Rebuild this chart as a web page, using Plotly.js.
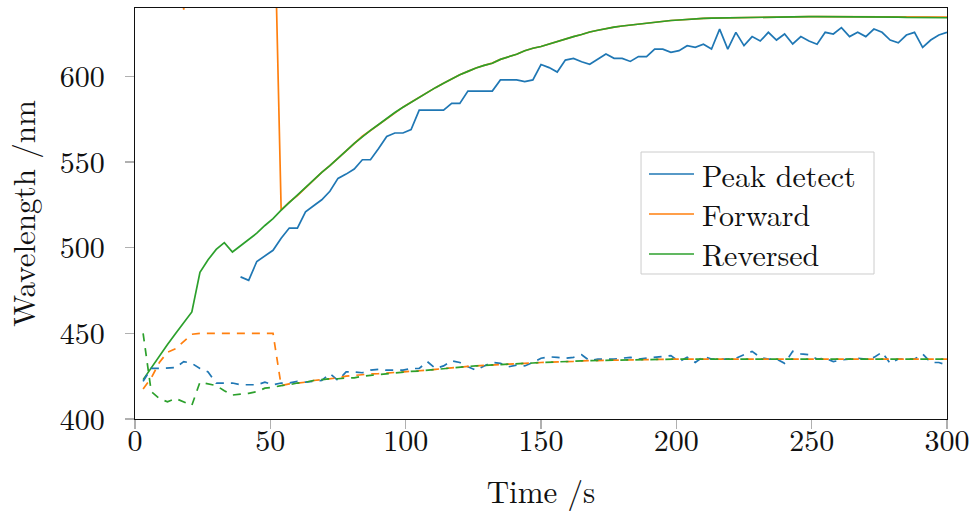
<!DOCTYPE html>
<html>
<head>
<meta charset="utf-8">
<script src="https://cdn.plot.ly/plotly-3.0.1.min.js"></script>
<style>
  html, body { margin: 0; padding: 0; background: #ffffff; }
  #chart { width: 976px; height: 518px; }
</style>
</head>
<body>
<div id="chart"></div>
<script>
// Sample times (s)
const time = [
  3, 6, 9, 12, 15, 18, 21, 24, 27, 30,
  33, 36, 39, 42, 45, 48, 51, 54, 57, 60,
  63, 66, 69, 72, 75, 78, 81, 84, 87, 90,
  93, 96, 99, 102, 105, 108, 111, 114, 117, 120,
  123, 126, 129, 132, 135, 138, 141, 144, 147, 150,
  153, 156, 159, 162, 165, 168, 171, 174, 177, 180,
  183, 186, 189, 192, 195, 198, 201, 204, 207, 210,
  213, 216, 219, 222, 225, 228, 231, 234, 237, 240,
  243, 246, 249, 252, 255, 258, 261, 264, 267, 270,
  273, 276, 279, 282, 285, 288, 291, 294, 297, 300
];

// Upper branch (solid lines)
const peakUpper = [
  null, null, null, null, null, null, null, null, null, null,
  null, null, 483, 481, 492, 495.5, 498.5, 505.5, 511.5, 511.5,
  521, 524.5, 528, 533, 540.5, 543, 546, 551.4, 551.4, 558,
  565, 567, 567, 569, 580.4, 580.4, 580.4, 580.4, 584.3, 584.3,
  591.5, 591.5, 591.5, 591.5, 598, 598, 598, 597, 598, 607,
  605.2, 602.6, 609.6, 610.6, 608.6, 607.1, 610, 613.1, 610.6, 610.6,
  608.8, 611.6, 611.6, 616, 616, 614.1, 615.1, 618, 617, 618.8,
  616, 627.7, 616, 625.8, 618, 623.3, 620.7, 625.8, 621.3, 624.8,
  619, 623.3, 620.7, 618.8, 625.8, 624.8, 628.5, 623.3, 625.8, 623.3,
  627.7, 625.8, 621.3, 619.7, 624.2, 625.8, 617, 621.3, 624.2, 625.8
];

const forwardUpper = [
  760, 745, 730, 720, 700, 639, 705, 715, 720, 725,
  730, 728, 730, 732, 730, 731, 730, 522, 526.6, 530.4,
  535, 539.6, 544, 548, 552.2, 556.4, 561, 565.1, 568.5, 572,
  575.6, 579, 582.1, 585, 588, 591, 593.5, 596, 598.5, 601,
  603, 605, 606.5, 607.8, 610, 611.5, 613, 615, 616.5, 617.5,
  619, 620.5, 622, 623.3, 624.5, 626, 627, 628, 628.8, 629.5,
  630.1, 630.7, 631.3, 631.8, 632.3, 632.7, 633, 633.4, 633.7, 633.9,
  634.1, 634.2, 634.3, 634.5, 634.6, 634.7, 634.8, 634.9, 634.9, 635,
  635, 635, 635, 635, 635, 635, 635, 635, 635, 635,
  635, 635, 635, 635, 634.9, 634.8, 634.8, 634.7, 634.7, 634.7
];

const reversedUpper = [
  423, 430, 437, 443.5, 450, 456, 462.5, 485.7, 493, 499,
  503, 497.5, 501, 505, 508.5, 513, 517, 522, 526.5, 530.5,
  535, 539.5, 544, 548, 552, 556.5, 561, 565, 568.5, 572,
  575.6, 579, 582, 585, 588, 591, 593.5, 596, 598.5, 601,
  603, 605, 606.5, 607.7, 610, 611.5, 613, 615, 616.5, 617.5,
  619, 620.5, 622, 623.3, 624.5, 626, 627, 628, 628.8, 629.5,
  630.1, 630.7, 631.3, 631.8, 632.3, 632.7, 633, 633.4, 633.7, 633.9,
  634.1, 634.2, 634.3, 634.5, 634.6, 634.7, 634.8, 634.9, 634.9, 635,
  635, 635, 635, 635, 635, 635, 635, 635, 635, 635,
  634.9, 634.9, 634.8, 634.7, 634.5, 634.4, 634.4, 634.3, 634.3, 634.3
];

// Lower branch (dashed lines)
const peakLower = [
  422, 429.6, 429.6, 429.6, 430, 433.5, 432.5, 429.5, 427.5, 421,
  421, 421, 420, 420, 420, 421.5, 420, 421, 421, 422,
  421.5, 422, 422.5, 426.5, 422.5, 427.5, 427.5, 427, 428.5, 429,
  428.5, 428.5, 428.5, 429.5, 429.5, 433.5, 429.5, 431, 434, 433,
  430.5, 428.5, 431, 433, 432.5, 430.5, 431.5, 431, 433, 435.5,
  436.3, 436, 435.5, 436, 437.5, 434, 435, 435, 435, 435.5,
  436, 435, 435.5, 436, 436.5, 437, 433.5, 436, 433, 436.5,
  435, 435, 435, 435.5, 437.5, 439.5, 436, 435, 435, 432.5,
  439.5, 438, 437.5, 435, 435.5, 433.5, 434.5, 435, 435.5, 435,
  436, 439, 432.5, 435, 435, 435, 438, 433, 433, 431.5
];

const forwardLower = [
  417.5, 424, 433, 439, 441, 445, 449.5, 450, 450, 450,
  450, 450, 450, 450, 450, 450, 450, 419.5, 420.5, 421,
  421.5, 422.5, 423, 423.5, 424, 425, 425.5, 426, 426.3, 426.5,
  426.8, 427, 427.5, 427.8, 428, 428.5, 429, 429.5, 430, 430.3,
  430.7, 431, 431.4, 431.6, 431.8, 432, 432.1, 432.4, 432.7, 433,
  433.1, 433.3, 433.5, 433.7, 434, 434.1, 434.2, 434.4, 434.5, 434.6,
  434.7, 434.8, 434.9, 435, 435, 435, 435, 435, 435, 435,
  435, 435, 435, 435, 435, 435, 435, 435, 435, 435,
  435, 435, 435, 435, 435, 435, 435, 435, 435, 435,
  435, 435, 435, 435, 435, 435, 435, 435, 435, 435
];

const reversedLower = [
  450, 416, 412, 410, 412, 410, 408, 421.5, 420.5, 419.5,
  416.5, 414, 414.5, 415, 416, 418, 418.5, 419.5, 420, 421,
  421.5, 422.5, 423, 423.5, 423.5, 424, 424, 425, 425.5, 426,
  426.7, 427, 427.5, 427.8, 428, 428.5, 429, 429.5, 430, 430.3,
  430.7, 431, 431.4, 431.6, 431.8, 432, 432.1, 432.4, 432.7, 433,
  433.1, 433.3, 433.5, 433.7, 434, 434.1, 434.2, 434.4, 434.5, 434.6,
  434.7, 434.8, 434.9, 435, 435, 435, 435, 435, 435, 435,
  435, 435, 435, 435, 435, 435, 435, 435, 435, 435,
  435, 435, 435, 435, 435, 435, 435, 435, 435, 435,
  435, 435, 435, 435, 435, 435, 435, 435, 435, 435
];

const seriesNames = ['Peak detect', 'Forward', 'Reversed'];
const seriesColors = ['#1f77b4', '#ff7f0e', '#2ca02c'];
const xTicks = [0, 50, 100, 150, 200, 250, 300];
const yTicks = [400, 450, 500, 550, 600];

const FONT = 'Latin Modern Roman';
const LW = 1.7;
const DASH = '8px,7px';

const upper = [peakUpper, forwardUpper, reversedUpper];
const lower = [peakLower, forwardLower, reversedLower];

const traces = [];
upper.forEach((ys, i) => {
  traces.push({
    type: 'scatter', mode: 'lines', x: time, y: ys,
    name: seriesNames[i], connectgaps: false,
    line: { color: seriesColors[i], width: LW },
    showlegend: false
  });
});
lower.forEach((ys, i) => {
  traces.push({
    type: 'scatter', mode: 'lines', x: time, y: ys,
    name: seriesNames[i] + ' (lower)',
    line: { color: seriesColors[i], width: LW, dash: DASH },
    showlegend: false
  });
});

// Legend box (drawn in paper coordinates, LaTeX/pgfplots style)
const LEG = { x0: 0.6232, x1: 0.9101, yTop: 0.6496, yBot: 0.3528,
              lineX0: 0.6330, lineX1: 0.6884, textX: 0.6975,
              rows: [0.5961, 0.4988, 0.4015] };
const shapes = [{
  type: 'rect', xref: 'paper', yref: 'paper',
  x0: LEG.x0, x1: LEG.x1, y0: LEG.yBot, y1: LEG.yTop,
  line: { color: '#cccccc', width: 1 }, fillcolor: '#ffffff', layer: 'above'
}];
const annotations = [];
seriesNames.forEach((nm, i) => {
  shapes.push({
    type: 'line', xref: 'paper', yref: 'paper',
    x0: LEG.lineX0, x1: LEG.lineX1, y0: LEG.rows[i], y1: LEG.rows[i],
    line: { color: seriesColors[i], width: 1.3 }, layer: 'above'
  });
  annotations.push({
    xref: 'paper', yref: 'paper', x: LEG.textX, y: LEG.rows[i],
    xanchor: 'left', yanchor: 'middle', showarrow: false, text: nm,
    borderpad: 0,
    font: { family: FONT, size: 30, color: '#111111' }
  });
});

const axisCommon = {
  showgrid: false, zeroline: false,
  showline: true, linecolor: '#111111', linewidth: 1.3, mirror: true,
  ticks: 'outside', ticklen: 9, tickwidth: 1.3, tickcolor: '#b0b0b0',
  tickfont: { family: FONT, size: 30, color: '#111111' }
};

const layout = {
  width: 976, height: 518,
  margin: { l: 135, r: 29, t: 8, b: 99 },
  paper_bgcolor: '#ffffff', plot_bgcolor: '#ffffff',
  font: { family: FONT, size: 30, color: '#111111' },
  xaxis: Object.assign({}, axisCommon, {
    range: [0, 300], tickvals: xTicks, ticktext: xTicks.map(String),
    ticklabelstandoff: -14,
    title: { text: 'Time /s', font: { family: FONT, size: 31, color: '#111111' }, standoff: 22 }
  }),
  yaxis: Object.assign({}, axisCommon, {
    range: [400, 640], tickvals: yTicks, ticktext: yTicks.map(String),
    ticklabelstandoff: 14,
    title: { text: 'Wavelength /nm', font: { family: FONT, size: 31, color: '#111111' }, standoff: 16 }
  }),
  shapes: shapes,
  annotations: annotations,
  showlegend: false
};

Plotly.newPlot('chart', traces, layout, { displayModeBar: false, staticPlot: true });
</script>
</body>
</html>
